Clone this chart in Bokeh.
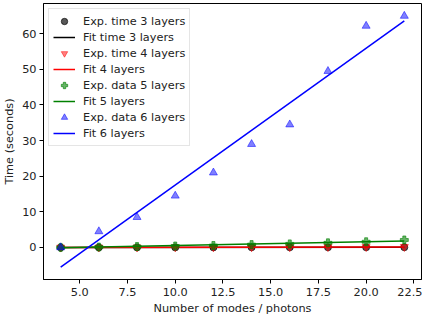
from bokeh.plotting import figure
from bokeh.embed import file_html
from bokeh.resources import INLINE
from bokeh.models import FixedTicker, PrintfTickFormatter, Range1d, Legend, LegendItem

# Data
modes = [4, 6, 8, 10, 12, 14, 16, 18, 20, 22]
exp3 = [0.0, 0.01, 0.01, 0.02, 0.02, 0.03, 0.03, 0.04, 0.04, 0.05]
exp4 = [0.0, 0.02, 0.04, 0.06, 0.08, 0.1, 0.12, 0.14, 0.16, 0.18]
exp5 = [0.0, 0.1, 0.25, 0.4, 0.55, 0.8, 1.0, 1.3, 1.6, 2.1]
exp6 = [0.0, 4.5, 8.5, 14.5, 21.0, 29.0, 34.5, 49.5, 62.2, 65.0]

fit_x = [4, 22]
fit3 = [0.0, 0.05]
fit4 = [0.0, 0.15]
fit5 = [-0.1, 1.8]
fit6 = [-5.5, 63.6]

x_ticks = [5.0, 7.5, 10.0, 12.5, 15.0, 17.5, 20.0, 22.5]
y_ticks = [0, 10, 20, 30, 40, 50, 60]

FONT = "DejaVu Sans"
FS = "11.3px"

p = figure(frame_width=378, frame_height=276, output_backend="svg", toolbar_location=None,
           x_range=Range1d(3.1, 22.9), y_range=Range1d(-9.0, 68.5),
           min_border_left=41, min_border_right=1, min_border_top=3, min_border_bottom=0)

p.grid.visible = False
p.outline_line_color = "black"
p.outline_line_width = 1
p.outline_line_alpha = 1.0
p.background_fill_color = "white"
p.border_fill_color = "white"

for ax in (p.xaxis[0], p.yaxis[0]):
    ax.axis_line_color = "black"
    ax.major_tick_line_color = "black"
    ax.major_tick_out = 4
    ax.major_tick_in = 0
    ax.minor_tick_line_color = None
    ax.major_label_text_font = FONT
    ax.major_label_text_font_size = FS
    ax.major_label_text_color = "#222222"
    ax.axis_label_text_font = FONT
    ax.axis_label_text_font_size = FS
    ax.axis_label_text_font_style = "normal"
    ax.axis_label_text_color = "#222222"
    ax.major_label_standoff = 3
    ax.axis_label_standoff = 3

p.xaxis.major_label_standoff = 4
p.xaxis.ticker = FixedTicker(ticks=x_ticks)
p.xaxis.formatter = PrintfTickFormatter(format="%.1f")
p.yaxis.ticker = FixedTicker(ticks=y_ticks)
p.yaxis.formatter = PrintfTickFormatter(format="%d")
p.xaxis.axis_label = "Number of modes / photons"
p.yaxis.axis_label = "Time (seconds)"

r1 = p.scatter(modes, exp3, marker="circle", size=7, color="black", alpha=0.65)
r2 = p.line(fit_x, fit3, color="black", line_width=1.5)
r3 = p.scatter(modes, exp4, marker="inverted_triangle", size=8, color="red", alpha=0.5)
r4 = p.line(fit_x, fit4, color="red", line_width=1.5)
r5 = p.scatter(modes, exp5, marker="plus", size=8, color="green", alpha=0.6)
r6 = p.line(fit_x, fit5, color="green", line_width=1.5)
r7 = p.scatter(modes, exp6, marker="triangle", size=8, color="blue", alpha=0.5)
r8 = p.line(fit_x, fit6, color="blue", line_width=1.5)

legend = Legend(items=[
    LegendItem(label="Exp. time 3 layers", renderers=[r1]),
    LegendItem(label="Fit time 3 layers", renderers=[r2]),
    LegendItem(label="Exp. time 4 layers", renderers=[r3]),
    LegendItem(label="Fit 4 layers", renderers=[r4]),
    LegendItem(label="Exp. data 5 layers", renderers=[r5]),
    LegendItem(label="Fit 5 layers", renderers=[r6]),
    LegendItem(label="Exp. data 6 layers", renderers=[r7]),
    LegendItem(label="Fit 6 layers", renderers=[r8]),
], location="top_left")
legend.margin = 5
legend.padding = 4
legend.spacing = 0
legend.glyph_width = 22
legend.glyph_height = 16
legend.label_height = 16
legend.label_standoff = 8
legend.label_text_font = FONT
legend.label_text_font_size = FS
legend.label_text_color = "#222222"
legend.border_line_color = "#cccccc"
legend.border_line_width = 1
legend.background_fill_alpha = 0.8
p.add_layout(legend, "center")

open("out.html", "w").write(file_html(p, INLINE))
